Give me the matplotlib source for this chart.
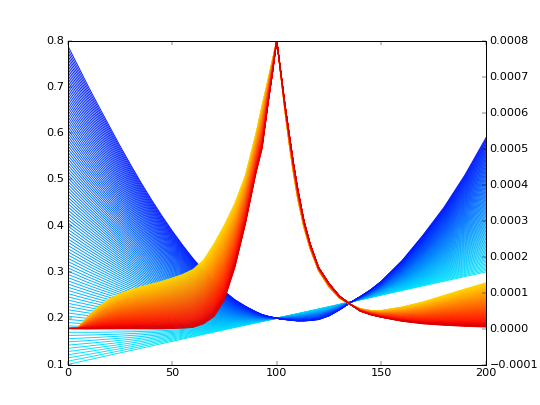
import numpy as np
import matplotlib
matplotlib.use('Agg')
import matplotlib.pyplot as plt

# sample positions along x
x = [0, 5, 10, 15, 20, 25, 30, 35, 40, 45, 50, 55, 60, 65, 70, 75, 80, 85, 90,
     93, 96, 98, 100, 102, 104, 106, 108, 110, 113, 116, 120, 125, 130, 136,
     140, 145, 150, 160, 170, 180, 190, 200]

# left axis: outer (dark blue) and inner (cyan) curve of the blue family
blue_dark = [0.79, 0.745, 0.70, 0.657, 0.615, 0.573, 0.533, 0.494, 0.457, 0.422,
             0.389, 0.358, 0.329, 0.303, 0.279, 0.258, 0.24, 0.226, 0.214,
             0.208, 0.204, 0.202, 0.2, 0.198, 0.197, 0.196, 0.195, 0.194, 0.194,
             0.195, 0.197, 0.205, 0.218, 0.236, 0.247, 0.262, 0.28, 0.325, 0.38,
             0.44, 0.51, 0.59]
blue_light = [0.1, 0.105, 0.11, 0.115, 0.12, 0.125, 0.13, 0.135, 0.14, 0.145,
              0.15, 0.155, 0.16, 0.165, 0.17, 0.175, 0.18, 0.185, 0.19, 0.193,
              0.196, 0.198, 0.2, 0.202, 0.204, 0.206, 0.208, 0.21, 0.213, 0.216,
              0.22, 0.225, 0.23, 0.236, 0.24, 0.245, 0.25, 0.26, 0.27, 0.28,
              0.29, 0.3]

# right axis (units of 1e-4): yellow and red edge of the warm family
warm_yellow = [0, 0.02, 0.35, 0.62, 0.82, 0.97, 1.07, 1.16, 1.23, 1.31, 1.40,
               1.50, 1.64, 1.90, 2.35, 2.88, 3.48, 4.25, 5.40, 6.20, 6.96, 7.48,
               8.0, 7.0, 6.0, 5.1, 4.3, 3.6, 2.8, 2.2, 1.6, 1.15, 0.84, 0.64,
               0.55, 0.50, 0.50, 0.60, 0.74, 0.92, 1.10, 1.27]
warm_red = [0, 0, 0, 0, 0, 0, 0, 0, 0, 0, 0, 0.01, 0.03, 0.13, 0.33, 0.8, 1.7,
            2.9, 4.3, 5.0, 6.3, 7.1, 8.0, 7.1, 6.2, 5.4, 4.6, 3.9, 3.0, 2.35,
            1.7, 1.25, 0.9, 0.64, 0.48, 0.38, 0.31, 0.20, 0.13, 0.09, 0.06, 0.04]

n_lines = 100

plt.style.use('classic')
fig, ax1 = plt.subplots(figsize=(8, 6), dpi=67.5)
fig.patch.set_facecolor('white')
ax2 = ax1.twinx()

bd = np.array(blue_dark)
bl = np.array(blue_light)
wy = np.array(warm_yellow) * 1e-4
wr = np.array(warm_red) * 1e-4

for w in np.linspace(0, 1, n_lines):
    ax1.plot(x, (1 - w) * bl + w * bd, color=plt.cm.jet(0.35 - 0.2 * w), lw=1)

for w in np.linspace(0, 1, n_lines):
    ax2.plot(x, (1 - w) * wy + w * wr, color=plt.cm.jet(0.68 + 0.24 * w), lw=1)

ax1.set_xlim(0, 200)
ax1.set_ylim(0.1, 0.8)
ax1.set_xticks([0, 50, 100, 150, 200])
ax1.set_yticks([0.1, 0.2, 0.3, 0.4, 0.5, 0.6, 0.7, 0.8])
ax2.set_ylim(-0.0001, 0.0008)
ax2.set_yticks([-0.0001, 0, 0.0001, 0.0002, 0.0003, 0.0004, 0.0005, 0.0006, 0.0007, 0.0008])

fig.savefig('out.png', dpi=67.5, facecolor='white')
